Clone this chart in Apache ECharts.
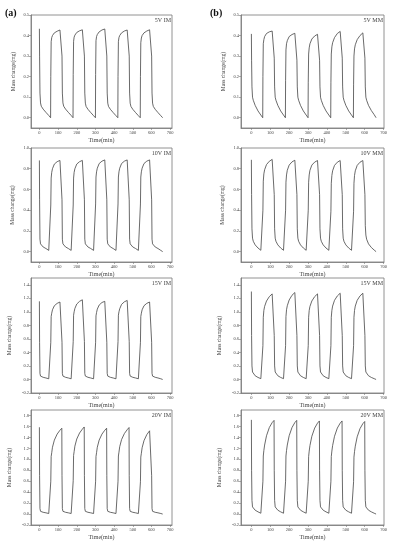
<!DOCTYPE html>
<html>
<head>
<meta charset="utf-8">
<script src="https://cdn.jsdelivr.net/npm/echarts@6.0.0/dist/echarts.min.js"></script>
<style>
  html, body { margin: 0; padding: 0; background: #fff; }
  #chart { width: 397px; height: 550px; }
</style>
</head>
<body>
<div id="chart"></div>
<script>
// sample times (min), shared by all eight runs
const times = [
  0, 1, 3, 6, 10, 20, 35, 50,
  60, 61, 63, 66, 70, 80, 95, 110,
  120, 121, 123, 126, 130, 140, 155, 170,
  180, 181, 183, 186, 190, 200, 215, 230,
  240, 241, 243, 246, 250, 260, 275, 290,
  300, 301, 303, 306, 310, 320, 335, 350,
  360, 361, 363, 366, 370, 380, 395, 410,
  420, 421, 423, 426, 430, 440, 455, 470,
  480, 481, 483, 486, 490, 500, 515, 530,
  540, 541, 543, 546, 550, 560, 575, 590,
  600, 601, 603, 606, 610, 620, 635, 650,
  660
];

// mass change (mg)
const im5 = [
  0.433, 0.30, 0.12, 0.072, 0.056, 0.042, 0.026, 0.011,
  0.0, 0.20, 0.37, 0.39, 0.40, 0.413, 0.421, 0.427,
  0.432, 0.30, 0.12, 0.072, 0.056, 0.042, 0.026, 0.011,
  0.0, 0.21, 0.372, 0.392, 0.402, 0.415, 0.423, 0.428,
  0.432, 0.30, 0.12, 0.071, 0.055, 0.041, 0.025, 0.010,
  0.0, 0.21, 0.375, 0.395, 0.405, 0.418, 0.427, 0.432,
  0.436, 0.30, 0.12, 0.071, 0.055, 0.041, 0.025, 0.010,
  0.0, 0.20, 0.37, 0.39, 0.40, 0.413, 0.422, 0.427,
  0.431, 0.30, 0.12, 0.071, 0.055, 0.041, 0.025, 0.010,
  0.0, 0.20, 0.365, 0.388, 0.40, 0.413, 0.422, 0.428,
  0.432, 0.30, 0.12, 0.071, 0.055, 0.041, 0.025, 0.010,
  0.0
];
const mm5 = [
  0.408, 0.28, 0.15, 0.10, 0.085, 0.06, 0.033, 0.013,
  0.0, 0.20, 0.36, 0.38, 0.395, 0.41, 0.418, 0.422,
  0.424, 0.29, 0.15, 0.10, 0.085, 0.06, 0.033, 0.013,
  0.0, 0.18, 0.33, 0.36, 0.375, 0.395, 0.405, 0.411,
  0.413, 0.28, 0.15, 0.10, 0.085, 0.06, 0.033, 0.013,
  0.0, 0.17, 0.31, 0.34, 0.36, 0.383, 0.398, 0.406,
  0.410, 0.28, 0.15, 0.10, 0.085, 0.06, 0.033, 0.013,
  0.0, 0.17, 0.31, 0.345, 0.365, 0.39, 0.41, 0.42,
  0.425, 0.29, 0.15, 0.10, 0.085, 0.06, 0.033, 0.013,
  0.0, 0.16, 0.30, 0.335, 0.355, 0.38, 0.40, 0.413,
  0.418, 0.29, 0.15, 0.10, 0.085, 0.06, 0.035, 0.015,
  0.0
];
const im10 = [
  0.88, 0.50, 0.12, 0.075, 0.06, 0.045, 0.03, 0.012,
  0.0, 0.45, 0.71, 0.765, 0.80, 0.845, 0.868, 0.88,
  0.885, 0.50, 0.12, 0.075, 0.06, 0.045, 0.03, 0.012,
  0.0, 0.45, 0.71, 0.765, 0.80, 0.845, 0.868, 0.88,
  0.886, 0.50, 0.12, 0.075, 0.06, 0.045, 0.03, 0.012,
  0.0, 0.46, 0.72, 0.77, 0.805, 0.85, 0.873, 0.885,
  0.89, 0.50, 0.12, 0.075, 0.06, 0.045, 0.03, 0.012,
  0.0, 0.46, 0.72, 0.77, 0.805, 0.85, 0.873, 0.885,
  0.89, 0.50, 0.12, 0.075, 0.06, 0.045, 0.03, 0.012,
  0.0, 0.46, 0.72, 0.77, 0.805, 0.85, 0.873, 0.885,
  0.89, 0.50, 0.12, 0.075, 0.06, 0.045, 0.03, 0.012,
  0.0
];
const mm10 = [
  0.886, 0.55, 0.22, 0.13, 0.10, 0.065, 0.035, 0.013,
  0.0, 0.40, 0.68, 0.75, 0.79, 0.84, 0.872, 0.89,
  0.90, 0.55, 0.22, 0.13, 0.10, 0.065, 0.035, 0.013,
  0.0, 0.40, 0.67, 0.74, 0.785, 0.835, 0.866, 0.882,
  0.89, 0.55, 0.22, 0.13, 0.10, 0.065, 0.035, 0.013,
  0.0, 0.40, 0.67, 0.74, 0.785, 0.835, 0.864, 0.879,
  0.885, 0.55, 0.22, 0.13, 0.10, 0.065, 0.035, 0.013,
  0.0, 0.39, 0.66, 0.735, 0.78, 0.832, 0.863, 0.879,
  0.885, 0.55, 0.22, 0.13, 0.10, 0.065, 0.035, 0.013,
  0.0, 0.39, 0.66, 0.735, 0.78, 0.832, 0.863, 0.879,
  0.885, 0.55, 0.25, 0.16, 0.12, 0.075, 0.04, 0.015,
  0.0
];
const im15 = [
  1.155, 0.55, 0.09, 0.05, 0.04, 0.032, 0.022, 0.01,
  0.0, 0.55, 0.93, 0.98, 1.03, 1.09, 1.125, 1.145,
  1.155, 0.55, 0.09, 0.05, 0.04, 0.032, 0.022, 0.01,
  0.0, 0.56, 0.95, 1.0, 1.05, 1.115, 1.155, 1.178,
  1.19, 0.56, 0.09, 0.05, 0.04, 0.032, 0.022, 0.01,
  0.0, 0.55, 0.94, 0.99, 1.04, 1.10, 1.138, 1.155,
  1.165, 0.55, 0.09, 0.05, 0.04, 0.032, 0.022, 0.01,
  0.0, 0.56, 0.95, 1.0, 1.045, 1.11, 1.148, 1.168,
  1.18, 0.56, 0.09, 0.05, 0.04, 0.032, 0.022, 0.01,
  0.0, 0.55, 0.93, 0.98, 1.03, 1.09, 1.125, 1.145,
  1.155, 0.55, 0.09, 0.05, 0.04, 0.032, 0.022, 0.01,
  0.0
];
const mm15 = [
  1.30, 0.65, 0.20, 0.11, 0.085, 0.055, 0.03, 0.012,
  0.0, 0.50, 0.92, 1.02, 1.08, 1.16, 1.225, 1.265,
  1.29, 0.65, 0.20, 0.11, 0.085, 0.055, 0.03, 0.012,
  0.0, 0.50, 0.93, 1.03, 1.09, 1.175, 1.245, 1.285,
  1.31, 0.65, 0.20, 0.11, 0.085, 0.055, 0.03, 0.012,
  0.0, 0.50, 0.92, 1.02, 1.08, 1.16, 1.225, 1.265,
  1.29, 0.65, 0.20, 0.11, 0.085, 0.055, 0.03, 0.012,
  0.0, 0.50, 0.92, 1.02, 1.085, 1.17, 1.235, 1.275,
  1.30, 0.65, 0.20, 0.11, 0.085, 0.055, 0.03, 0.012,
  0.0, 0.50, 0.92, 1.02, 1.085, 1.17, 1.235, 1.275,
  1.30, 0.65, 0.20, 0.11, 0.085, 0.055, 0.03, 0.012,
  0.0
];
const im20 = [
  1.585, 0.70, 0.10, 0.05, 0.04, 0.032, 0.022, 0.01,
  0.0, 0.60, 1.05, 1.12, 1.22, 1.35, 1.46, 1.53,
  1.567, 0.70, 0.10, 0.05, 0.04, 0.032, 0.022, 0.01,
  0.0, 0.61, 1.07, 1.14, 1.24, 1.37, 1.48, 1.55,
  1.59, 0.70, 0.10, 0.05, 0.04, 0.032, 0.022, 0.01,
  0.0, 0.60, 1.05, 1.12, 1.22, 1.35, 1.46, 1.53,
  1.567, 0.70, 0.10, 0.05, 0.04, 0.032, 0.022, 0.01,
  0.0, 0.60, 1.06, 1.13, 1.23, 1.36, 1.47, 1.54,
  1.58, 0.70, 0.10, 0.05, 0.04, 0.032, 0.022, 0.01,
  0.0, 0.59, 1.04, 1.11, 1.21, 1.34, 1.45, 1.52,
  1.555, 0.70, 0.10, 0.05, 0.04, 0.032, 0.022, 0.01,
  0.0
];
const mm20 = [
  1.72, 0.80, 0.25, 0.13, 0.10, 0.07, 0.04, 0.015,
  0.0, 0.60, 1.06, 1.16, 1.26, 1.43, 1.58, 1.67,
  1.71, 0.80, 0.25, 0.13, 0.10, 0.07, 0.04, 0.015,
  0.0, 0.60, 1.06, 1.16, 1.26, 1.43, 1.58, 1.67,
  1.71, 0.80, 0.25, 0.13, 0.10, 0.07, 0.04, 0.015,
  0.0, 0.60, 1.05, 1.15, 1.25, 1.42, 1.57, 1.66,
  1.70, 0.80, 0.25, 0.13, 0.10, 0.07, 0.04, 0.015,
  0.0, 0.60, 1.05, 1.15, 1.25, 1.42, 1.57, 1.66,
  1.70, 0.80, 0.25, 0.13, 0.10, 0.07, 0.04, 0.015,
  0.0, 0.59, 1.04, 1.14, 1.24, 1.41, 1.56, 1.65,
  1.69, 0.80, 0.25, 0.13, 0.10, 0.07, 0.04, 0.015,
  0.0
];

const panelNames = ['5V IM', '5V MM', '10V IM', '10V MM', '15V IM', '15V MM', '20V IM', '20V MM'];
const panelValues = [im5, mm5, im10, mm10, im15, mm15, im20, mm20];
const columnTags = ['(a)', '(b)'];

// tick labels
const xTicks = [0, 100, 200, 300, 400, 500, 600, 700];
const yTicksRow = [
  [0, 0.1, 0.2, 0.3, 0.4, 0.5],
  [0, 0.2, 0.4, 0.6, 0.8, 1.0],
  [-0.2, 0, 0.2, 0.4, 0.6, 0.8, 1.0, 1.2, 1.4],
  [-0.2, 0, 0.2, 0.4, 0.6, 0.8, 1.0, 1.2, 1.4, 1.6, 1.8]
];
const yRange = [[-0.05, 0.5], [-0.1, 1.0], [-0.2, 1.5], [-0.2, 1.9]];

// layout (px)
const colLeft = [31, 241];
const colWidth = [141, 143];
const colXRange = [[-45, 710], [-55, 702]];
const rowTop = [15, 148, 278, 410];
const rowHeight = [113, 114, 115, 115];
const yNameGap = [[14, 14], [15, 15], [18, 18], [18, 18]];

const FONT = 'Liberation Serif';
const INK = '#444';
const AXIS = '#777';

const option = {
  animation: false,
  backgroundColor: '#fff',
  title: [],
  grid: [],
  xAxis: [],
  yAxis: [],
  series: []
};

columnTags.forEach((tag, c) => {
  option.title.push({
    text: tag, left: c === 0 ? 5 : 210, top: 8, padding: 0,
    textStyle: { fontFamily: FONT, fontSize: 10, fontWeight: 'bold', color: '#111' }
  });
});

panelNames.forEach((name, i) => {
  const row = Math.floor(i / 2);
  const col = i % 2;
  const left = colLeft[col];
  const top = rowTop[row];
  const w = colWidth[col];
  const h = rowHeight[row];

  option.grid.push({
    left: left, top: top, width: w, height: h,
    show: true, borderColor: AXIS, borderWidth: 0.8, backgroundColor: 'transparent'
  });

  option.title.push({
    text: name, right: 397 - (left + w) + 1, top: top + 2, padding: 0,
    textStyle: { fontFamily: FONT, fontSize: 6, fontWeight: 'normal', color: INK }
  });

  option.xAxis.push({
    type: 'value', gridIndex: i,
    min: colXRange[col][0], max: colXRange[col][1],
    name: 'Time(min)', nameLocation: 'middle', nameGap: 9,
    nameTextStyle: { fontFamily: FONT, fontSize: 6, color: INK },
    axisLine: { show: true, onZero: false, lineStyle: { color: AXIS, width: 0.8 } },
    axisTick: { show: true, length: 2, customValues: xTicks, lineStyle: { color: AXIS, width: 0.6 } },
    axisLabel: { customValues: xTicks, margin: 2, fontFamily: FONT, fontSize: 4.5, color: INK },
    splitLine: { show: false }
  });

  const yt = yTicksRow[row];
  option.yAxis.push({
    type: 'value', gridIndex: i,
    min: yRange[row][0], max: yRange[row][1],
    name: 'Mass change(mg)', nameLocation: 'middle', nameGap: yNameGap[row][col],
    nameTextStyle: { fontFamily: FONT, fontSize: 5.5, color: INK },
    axisLine: { show: true, onZero: false, lineStyle: { color: AXIS, width: 0.8 } },
    axisTick: { show: true, length: 2, customValues: yt, lineStyle: { color: AXIS, width: 0.6 } },
    axisLabel: {
      customValues: yt, margin: 2, fontFamily: FONT, fontSize: 4.5, color: INK,
      formatter: v => v.toFixed(1)
    },
    splitLine: { show: false }
  });

  const vals = panelValues[i];
  option.series.push({
    type: 'line', xAxisIndex: i, yAxisIndex: i,
    data: times.map((t, k) => [t, vals[k]]),
    showSymbol: false, silent: true,
    lineStyle: { color: '#444', width: 0.8 }
  });
});

const chart = echarts.init(document.getElementById('chart'), null, { renderer: 'canvas' });
chart.setOption(option);
</script>
</body>
</html>
